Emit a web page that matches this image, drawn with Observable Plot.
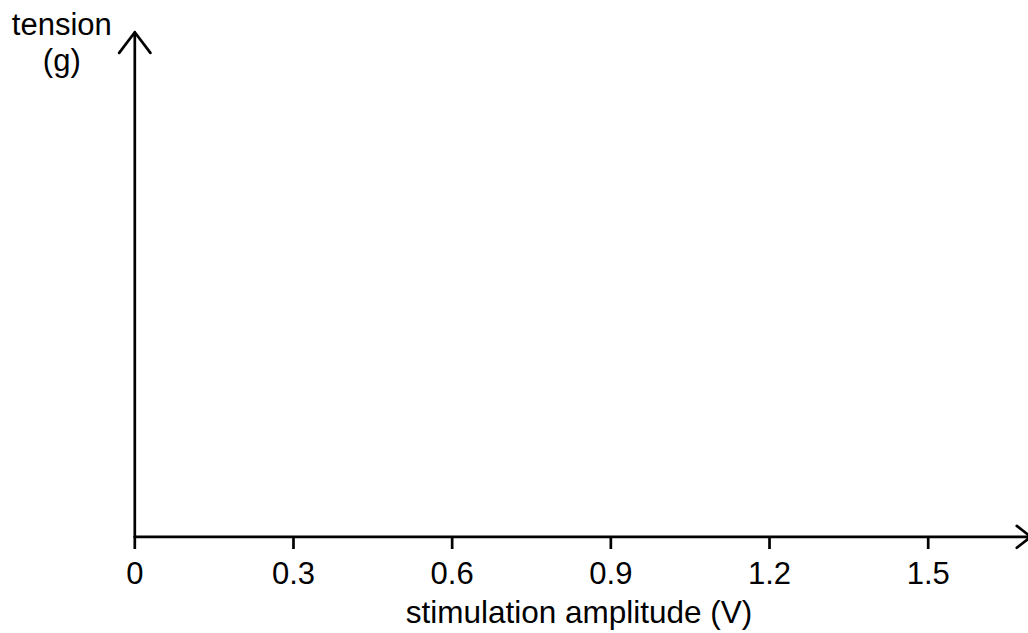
<!DOCTYPE html>
<html>
<head>
<meta charset="utf-8">
<script src="https://cdn.jsdelivr.net/npm/d3@7"></script>
<script src="https://cdn.jsdelivr.net/npm/@observablehq/plot@0.6"></script>
<style>
  html, body { margin: 0; padding: 0; background: #fff; }
  #chart svg { display: block; }
</style>
</head>
<body>
<div id="chart"></div>
<script>
// Blank response-curve axes: stimulation amplitude (V) against tension (g)
const xTicks = [0, 0.3, 0.6, 0.9, 1.2, 1.5];
const xTickLabels = ["0", "0.3", "0.6", "0.9", "1.2", "1.5"];
const xAxisEnd = 1.694;   // where the horizontal arrow tip sits
const yAxisEnd = 1;       // tension axis is unscaled; arrow tip at top of frame
const xLabel = "stimulation amplitude (V)";
const yLabel = ["tension", "(g)"];

const font = "'Liberation Sans', Arial, Helvetica, sans-serif";
const ink = "#000";
const sw = 2.7;

const plot = Plot.plot({
  width: 1028,
  height: 633,
  marginLeft: 134.3,
  marginRight: 100.3,
  marginTop: 31.7,
  marginBottom: 96.7,
  style: { fontFamily: font, background: "#fff", color: ink },
  x: { domain: [0, 1.5] },
  y: { domain: [0, yAxisEnd], axis: null },
  marks: [
    // vertical axis with open arrowhead
    Plot.arrow([{x1: 0, y1: 0, x2: 0, y2: yAxisEnd}], {
      x1: "x1", y1: "y1", x2: "x2", y2: "y2",
      stroke: ink, strokeWidth: sw, headAngle: 74, headLength: 14.4
    }),
    // horizontal axis with open arrowhead
    Plot.arrow([{x1: 0, y1: 0, x2: xAxisEnd, y2: 0}], {
      x1: "x1", y1: "y1", x2: "x2", y2: "y2",
      stroke: ink, strokeWidth: sw, headAngle: 76, headLength: 9.9
    }),
    Plot.axisX({
      ticks: xTicks,
      tickFormat: (d) => xTickLabels[xTicks.indexOf(d)],
      tickSize: 12.7,
      tickPadding: 12,
      strokeWidth: sw,
      stroke: ink,
      fill: ink,
      fontSize: 31,
      label: null
    }),
    Plot.text([xLabel], {
      frameAnchor: "bottom",
      text: (d) => d,
      lineAnchor: "bottom",
      dx: 47.5,
      dy: 86.5,
      fontSize: 31.5,
      fill: ink
    }),
    Plot.text([yLabel.join("\n")], {
      frameAnchor: "top-left",
      text: (d) => d,
      textAnchor: "middle",
      lineAnchor: "bottom",
      lineHeight: 1.16,
      dx: -73,
      dy: 38.8,
      fontSize: 31,
      fill: ink
    })
  ]
});

document.getElementById("chart").appendChild(plot);
</script>
</body>
</html>
